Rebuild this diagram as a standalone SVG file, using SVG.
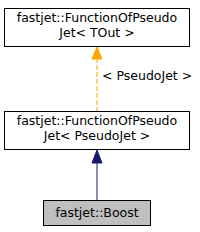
<svg xmlns="http://www.w3.org/2000/svg" width="200" height="232" viewBox="0 0 200 232">
<style>
text{font-family:"DejaVu Sans",sans-serif;font-size:12.5px;fill:#000;text-anchor:middle}
.box{fill:#fff;stroke:#000;stroke-width:1}
</style>
<rect width="200" height="232" fill="#fff"/>
<g id="connectors">
<line x1="97" y1="58" x2="97" y2="111" stroke="#ffa500" stroke-dasharray="5,2"/>
<polygon points="97,47 92,59 102,59" fill="#ffa500" stroke="#ffa500"/>
<text x="102" y="80" style="text-anchor:start">&lt; PseudoJet &gt;</text>
<line x1="97" y1="162" x2="97" y2="200" stroke="#191970"/>
<polygon points="97,150 92,163 102,163" fill="#191970" stroke="#191970"/>
</g>
<g id="node1">
<rect class="box" x="4.5" y="8.5" width="185" height="38"/>
<text x="97" y="22">fastjet::FunctionOfPseudo</text>
<text x="97" y="37">Jet&lt; TOut &gt;</text>
</g>
<g id="node2">
<rect class="box" x="4.5" y="111.5" width="185" height="38"/>
<text x="97" y="125">fastjet::FunctionOfPseudo</text>
<text x="97" y="140">Jet&lt; PseudoJet &gt;</text>
</g>
<g id="node3">
<rect x="43.5" y="200.5" width="107" height="25" fill="#bfbfbf" stroke="#000"/>
<text x="97" y="217">fastjet::Boost</text>
</g>
</svg>
